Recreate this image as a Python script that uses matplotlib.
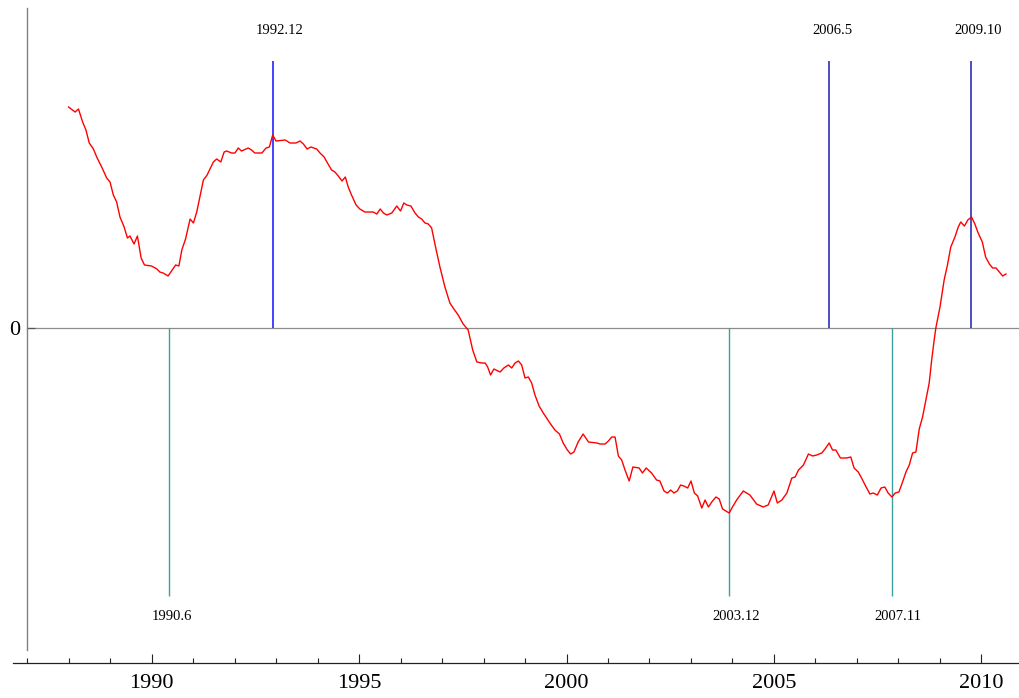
import numpy as np
import matplotlib.pyplot as plt

plt.rcParams['font.family'] = ['Liberation Serif', 'DejaVu Serif']

years = [
    1988.00, 1988.16, 1988.24, 1988.34, 1988.42, 1988.50, 1988.60, 1988.69, 1988.80, 1988.92,
    1989.00, 1989.08, 1989.16, 1989.24, 1989.34, 1989.42, 1989.48, 1989.58, 1989.66, 1989.75,
    1989.83, 1990.00, 1990.13, 1990.20, 1990.28, 1990.40, 1990.58, 1990.66, 1990.73, 1990.82,
    1990.93, 1991.01, 1991.09, 1991.25, 1991.34, 1991.49, 1991.57, 1991.67, 1991.75, 1991.81,
    1991.93, 1992.01, 1992.09, 1992.17, 1992.33, 1992.41, 1992.49, 1992.66, 1992.76, 1992.84,
    1992.92, 1993.00, 1993.22, 1993.34, 1993.48, 1993.58, 1993.66, 1993.75, 1993.84, 1993.98,
    1994.06, 1994.16, 1994.24, 1994.34, 1994.42, 1994.50, 1994.59, 1994.67, 1994.74, 1994.82,
    1994.93, 1995.02, 1995.14, 1995.34, 1995.43, 1995.51, 1995.59, 1995.67, 1995.79, 1995.91,
    1996.00, 1996.08, 1996.15, 1996.25, 1996.35, 1996.43, 1996.51, 1996.59, 1996.67, 1996.75,
    1996.86, 1996.95, 1997.07, 1997.19, 1997.27, 1997.39, 1997.51, 1997.63, 1997.74, 1997.84,
    1997.96, 1998.04, 1998.10, 1998.17, 1998.25, 1998.40, 1998.49, 1998.60, 1998.68, 1998.76,
    1998.84, 1998.92, 1999.00, 1999.08, 1999.16, 1999.24, 1999.34, 1999.44, 1999.60, 1999.72,
    1999.83, 1999.92, 2000.02, 2000.10, 2000.18, 2000.28, 2000.40, 2000.53, 2000.73, 2000.81,
    2000.93, 2001.01, 2001.09, 2001.17, 2001.25, 2001.33, 2001.41, 2001.51, 2001.60, 2001.75,
    2001.83, 2001.92, 2002.05, 2002.17, 2002.25, 2002.35, 2002.43, 2002.51, 2002.59, 2002.67,
    2002.75, 2002.83, 2002.92, 2003.00, 2003.08, 2003.16, 2003.26, 2003.34, 2003.42, 2003.50,
    2003.60, 2003.68, 2003.76, 2003.84, 2003.92, 2004.00, 2004.10, 2004.26, 2004.42, 2004.58,
    2004.74, 2004.86, 2005.00, 2005.08, 2005.19, 2005.31, 2005.43, 2005.51, 2005.59, 2005.71,
    2005.83, 2005.93, 2006.03, 2006.15, 2006.23, 2006.33, 2006.41, 2006.49, 2006.60, 2006.75,
    2006.85, 2006.93, 2007.03, 2007.11, 2007.22, 2007.31, 2007.39, 2007.49, 2007.58, 2007.67,
    2007.75, 2007.84, 2007.92, 2008.01, 2008.09, 2008.18, 2008.26, 2008.34, 2008.42, 2008.50,
    2008.58, 2008.66, 2008.74, 2008.80, 2008.86, 2008.90, 2009.00, 2009.10, 2009.18, 2009.26,
    2009.36, 2009.44, 2009.50, 2009.59, 2009.67, 2009.76, 2009.84, 2009.92, 2010.02, 2010.10,
    2010.19, 2010.27, 2010.35, 2010.43, 2010.51, 2010.59,
]
gap = [
    2.21, 2.16, 2.19, 2.06, 1.98, 1.85, 1.79, 1.70, 1.61, 1.50,
    1.46, 1.33, 1.26, 1.11, 1.01, 0.90, 0.92, 0.84, 0.92, 0.70,
    0.63, 0.62, 0.59, 0.56, 0.55, 0.52, 0.63, 0.62, 0.78, 0.89,
    1.09, 1.05, 1.16, 1.48, 1.53, 1.66, 1.69, 1.66, 1.76, 1.77,
    1.75, 1.75, 1.80, 1.77, 1.80, 1.78, 1.75, 1.75, 1.80, 1.81,
    1.93, 1.87, 1.88, 1.85, 1.85, 1.87, 1.84, 1.79, 1.81, 1.79,
    1.75, 1.71, 1.65, 1.58, 1.56, 1.52, 1.47, 1.51, 1.41, 1.33,
    1.23, 1.19, 1.16, 1.16, 1.14, 1.19, 1.15, 1.13, 1.15, 1.22,
    1.17, 1.25, 1.23, 1.22, 1.15, 1.11, 1.09, 1.05, 1.04, 1.00,
    0.78, 0.61, 0.41, 0.25, 0.20, 0.13, 0.04, -0.02, -0.22, -0.34,
    -0.35, -0.35, -0.39, -0.47, -0.41, -0.44, -0.40, -0.37, -0.40, -0.35,
    -0.33, -0.37, -0.50, -0.49, -0.55, -0.67, -0.78, -0.85, -0.95, -1.02,
    -1.06, -1.15, -1.22, -1.26, -1.24, -1.14, -1.06, -1.14, -1.15, -1.16,
    -1.16, -1.13, -1.09, -1.09, -1.28, -1.32, -1.42, -1.53, -1.39, -1.40,
    -1.45, -1.40, -1.45, -1.52, -1.53, -1.63, -1.65, -1.62, -1.65, -1.63,
    -1.57, -1.58, -1.60, -1.53, -1.65, -1.68, -1.80, -1.72, -1.79, -1.74,
    -1.69, -1.71, -1.81, -1.83, -1.85, -1.79, -1.72, -1.63, -1.67, -1.76,
    -1.79, -1.77, -1.63, -1.75, -1.72, -1.65, -1.50, -1.49, -1.42, -1.37,
    -1.26, -1.28, -1.27, -1.25, -1.21, -1.15, -1.22, -1.22, -1.30, -1.30,
    -1.29, -1.40, -1.44, -1.50, -1.59, -1.66, -1.65, -1.67, -1.60, -1.59,
    -1.65, -1.69, -1.65, -1.64, -1.55, -1.44, -1.37, -1.25, -1.24, -1.01,
    -0.89, -0.72, -0.55, -0.32, -0.12, 0.00, 0.21, 0.48, 0.63, 0.81,
    0.91, 1.01, 1.06, 1.02, 1.08, 1.11, 1.04, 0.95, 0.86, 0.71,
    0.64, 0.60, 0.60, 0.56, 0.52, 0.54,
]

# turning points, "year.month"
peaks = ['1992.12', '2006.5', '2009.10']
troughs = ['1990.6', '2003.12', '2007.11']


def to_year(label):
    y, m = label.split('.')
    return int(y) + (int(m) - 1) / 12


fig = plt.figure(figsize=(10.2, 6.98), dpi=100)
ax = fig.add_axes([0, 0, 1, 1])
ax.set_xlim(1986.349, 2010.928)
ax.set_ylim(-3.70, 3.28)

ax.axhline(0, xmin=(1987 - 1986.349) / (2010.928 - 1986.349), color='#8c8c8c', lw=0.9, zorder=1)

for lab in peaks:
    x = to_year(lab)
    col = '#1010ff' if lab == '1992.12' else '#1c1cb0'
    ax.vlines(x, 0, 2.67, color=col, lw=1.1, zorder=2)
    ax.annotate(lab, (x, 2.98), xytext=(-12.2, 0), textcoords='offset points',
                ha='left', va='center', fontsize=10.5)

for lab in troughs:
    x = to_year(lab)
    ax.vlines(x, -2.68, 0, color='#3d9f9f', lw=1.0, zorder=2)
    ax.annotate(lab, (x, -2.89), xytext=(-12.2, 0), textcoords='offset points',
                ha='left', va='center', fontsize=10.5)

ax.plot(years, gap, color='#ff0000', lw=1.0, zorder=3)

# axes drawn in the style of a plain axis frame
for s in ['top', 'right']:
    ax.spines[s].set_visible(False)
ax.spines['bottom'].set_position(('data', -3.35))
ax.spines['bottom'].set_bounds(1986.67, 2010.93)
ax.spines['bottom'].set_color('#222222')
ax.spines['bottom'].set_linewidth(0.9)
ax.spines['left'].set_position(('data', 1987))
ax.spines['left'].set_bounds(-3.22, 3.20)
ax.spines['left'].set_color('#808080')
ax.spines['left'].set_linewidth(1.0)

ax.set_xticks([1990, 1995, 2000, 2005, 2010])
ax.set_xticks([y for y in range(1987, 2011) if y % 5 != 0], minor=True)
ax.tick_params(axis='x', which='major', direction='in', length=6.5, width=0.8,
               color='#222222', labelsize=16, pad=8)
ax.tick_params(axis='x', which='minor', direction='in', length=3.6, width=0.8,
               color='#222222')
ax.set_yticks([0])
ax.set_yticklabels(['0'])
ax.tick_params(axis='y', direction='in', length=5.8, width=0.9, color='#555555',
               labelsize=16, pad=5)

fig.savefig('out.png', dpi=100)
